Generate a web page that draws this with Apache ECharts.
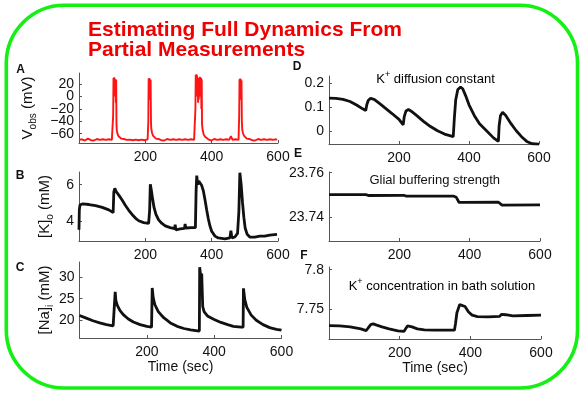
<!DOCTYPE html>
<html><head><meta charset="utf-8">
<script src="https://cdn.jsdelivr.net/npm/echarts@6/dist/echarts.min.js"></script>
<style>html,body{margin:0;padding:0;background:#fff}#c{width:587px;height:394px}</style>
</head><body><div id="c"></div>
<script>
// ---------- data (time in sec) ----------
const xTicks = [200, 400, 600];
const yTicksA = [-60, -40, -20, 0, 20];
const yTicksB = [4, 6];
const yTicksC = [20, 25, 30];
const yTicksD = [0, 0.1, 0.2];
const yTicksE = [23.74, 23.76];
const yTicksF = [7.75, 7.8];

// A: observed membrane voltage (mV)
const vObs = [
 [0,-70],[3,-68.5],[6,-71],[9,-69],[12,-70.5],[15,-68.5],[18,-71],[21,-69.5],[24,-70],[27,-68],[30,-71],[33,-69],
 [36,-70.5],[39,-68.5],[42,-70],[45,-71],[48,-69],[51,-70],[54,-68.5],[57,-71],[60,-69.5],[63,-70],[66,-68],[69,-70.5],
 [72,-69],[75,-71],[78,-69.5],[81,-70],[84,-68.5],[87,-70.5],[90,-69],[93,-71],[96,-69.5],[99,-70],[102,-68.5],
 [103,-30],[104,30],[105,20],[106,31],[107,10],[108,29],[109,0],[110,28],[111,-10],[112,27],[113,-45],[114,-55],[116,-60],[119,-64],[123,-66.5],[128,-68],
 [132,-70],[135,-68.5],[138,-71],[141,-69],[144,-70],[147,-68.5],[150,-71],[153,-69.5],[156,-70],[159,-68],[162,-70.5],[165,-69],
 [168,-71],[171,-69.5],[174,-70],[177,-68.5],[180,-70.5],[183,-69],[186,-71],[189,-69.5],[192,-70],[195,-68],[198,-70.5],[201,-69],[204,-70.5],[207,-69],
 [209,-40],[210,29],[211,15],[212,30],[213,5],[214,28],[215,-5],[216,27],[217,-40],[218,-52],[220,-58],[223,-63],[227,-66],[232,-68],
 [236,-70],[239,-68.5],[242,-71],[245,-69],[248,-70.5],[251,-68.5],[254,-70],[257,-71],[260,-69],[263,-70],[266,-68.5],[269,-71],
 [272,-69.5],[275,-70],[278,-68],[281,-70.5],[284,-69],[287,-71],[290,-69.5],[293,-70],[296,-68.5],[299,-70.5],[302,-69],[305,-71],
 [308,-69.5],[311,-70],[314,-68],[317,-70.5],[320,-69],[323,-71],[326,-69.5],[329,-70],[332,-68.5],[335,-70.5],[338,-69],[341,-71],
 [344,-69.5],[347,-70],[350,-68.5],
 [351,-20],[352,35],[353,20],[354,36],[355,10],[356,34],[357,0],[358,30],[359,-10],[360,28],[361,-5],[362,30],[363,0],[364,32],[365,5],
 [366,31],[367,0],[368,30],[369,-20],[370,28],[371,-45],[373,-55],[376,-61],[380,-65],[385,-67.5],[390,-69],
 [393,-70.5],[396,-68.5],[399,-71],[402,-69],[405,-70],[408,-68.5],[411,-71],[414,-69.5],[417,-70],[420,-68],[423,-70.5],[426,-69],
 [429,-71],[432,-69.5],[435,-70],[438,-68.5],[441,-70.5],[444,-69],[447,-71],[450,-69.5],[453,-70],[456,-68],[458,-64],[460,-67],[463,-70],
 [466,-68.5],[469,-71],[472,-69],[475,-70.5],[478,-68.5],[481,-70],
 [483,-30],[484,28],[485,15],[486,29],[487,5],[488,28],[489,-5],[490,26],[491,-40],[492,-52],[494,-58],[497,-63],[501,-66],[506,-68],
 [510,-70],[513,-68.5],[516,-71],[519,-69],[522,-70.5],[525,-68.5],[528,-70],[531,-71],[534,-69],[537,-70],[540,-68.5],[543,-71],
 [546,-69.5],[549,-70],[552,-68],[555,-70.5],[558,-69],[561,-71],[564,-69.5],[567,-70],[570,-68.5],[573,-70.5],[576,-69],[579,-71],
 [582,-69.5],[585,-70],[588,-68.5],[591,-70.5],[594,-69],[597,-70]
];

// B: extracellular potassium (mM)
const kOut = [
 [0,3.5],[1,4.6],[3,4.88],[10,4.93],[30,4.9],[50,4.84],[70,4.74],[90,4.6],[103,4.45],
 [105,5.6],[108,5.8],[112,5.62],[120,5.42],[130,5.15],[140,4.85],[150,4.58],[160,4.35],[170,4.15],[180,4.0],[195,3.9],[210,3.85],
 [213,4.6],[215,6.02],[218,5.7],[222,5.2],[226,4.75],[232,4.35],[240,4.05],[250,3.85],[260,3.72],[275,3.62],[288,3.56],[290,3.78],[292,3.5],
 [305,3.55],[318,3.58],[320,3.82],[322,3.6],[340,3.62],[351,3.62],
 [353,5.6],[355,6.5],[358,6.0],[361,6.2],[365,6.15],[370,5.95],[375,5.65],[380,5.15],[385,4.6],[390,4.1],[395,3.7],[400,3.42],
 [410,3.15],[420,3.05],[440,3.0],[455,3.05],[458,3.45],[461,3.05],[470,3.1],[478,3.3],[482,4.5],[485,6.66],[489,6.0],[493,5.0],
 [497,4.2],[501,3.6],[507,3.25],[515,3.1],[530,3.1],[545,3.15],[560,3.15],[575,3.2],[597,3.25]
];

// C: intracellular sodium (mM)
const naIn = [
 [0,21.1],[20,20.5],[40,19.9],[60,19.4],[80,19.0],[100,18.7],[105,18.6],
 [106,26.6],[108,24.6],[112,23.5],[120,22.3],[130,21.3],[145,20.3],[160,19.6],[180,19.0],[200,18.6],[214,18.4],
 [216,27.5],[219,25.2],[224,23.6],[234,22.0],[250,20.6],[270,19.4],[290,18.6],[310,18.1],[330,17.8],[356,17.5],
 [357,32.3],[360,30.2],[363,30.8],[366,23.2],[370,22.0],[380,21.0],[400,20.2],[420,19.5],[440,19.0],[457,18.6],[460,19.0],[462,18.5],
 [480,18.4],[486,18.4],[487,27.4],[491,24.8],[497,23.0],[510,21.2],[525,20.0],[545,19.0],[565,18.3],[585,17.9],[600,17.7]
];

// D: K+ diffusion constant
const kDiff = [
 [0,0.138],[20,0.137],[40,0.133],[60,0.124],[80,0.108],[95,0.094],[105,0.086],
 [108,0.11],[112,0.128],[119,0.138],[130,0.132],[145,0.115],[160,0.097],[180,0.073],[200,0.048],[212,0.025],
 [215,0.06],[220,0.084],[227,0.09],[235,0.083],[250,0.065],[270,0.04],[290,0.018],[310,0.0],[330,-0.014],[355,-0.025],
 [358,0.05],[362,0.13],[368,0.175],[376,0.185],[382,0.178],[390,0.15],[400,0.11],[415,0.065],[430,0.03],[450,0.0],[470,-0.03],[484,-0.045],
 [486,0.02],[490,0.065],[496,0.078],[505,0.065],[520,0.03],[535,0.0],[550,-0.025],[565,-0.045],[580,-0.055],[600,-0.057]
];

// E: glial buffering strength
const glial = [
 [0,23.7502],[105,23.7502],[112,23.7498],[213,23.7499],[220,23.7495],[355,23.7495],[362,23.749],[370,23.7467],[380,23.7467],
 [482,23.7468],[486,23.7462],[492,23.7455],[600,23.7456]
];

// F: K+ concentration in bath solution
const kBath = [
 [0,7.7286],[30,7.7283],[60,7.727],[90,7.7245],[105,7.7222],[110,7.725],[118,7.7298],[125,7.7308],[135,7.7292],[150,7.727],
 [170,7.7245],[195,7.722],[212,7.7212],[216,7.724],[222,7.7282],[235,7.727],[250,7.7245],[270,7.7232],[300,7.7228],[355,7.7228],
 [358,7.731],[362,7.745],[370,7.7555],[375,7.7572],[385,7.753],[395,7.746],[405,7.742],[420,7.7402],[450,7.7398],[483,7.7403],
 [486,7.738],[488,7.743],[493,7.7438],[500,7.7425],[520,7.741],[560,7.7415],[600,7.742]
];

// ---------- chart ----------
const FONT = 'Liberation Sans, Arial, Helvetica, sans-serif';
const grids = [
 {left:79, top:73, width:199, height:70},
 {left:79, top:172, width:199, height:69},
 {left:79.5, top:262, width:202, height:76},
 {left:329, top:76, width:210, height:68},
 {left:329, top:172, width:211, height:69},
 {left:329, top:267, width:212, height:72}
];
const yRanges = [[-75,38],[2.88,6.7],[15.9,33.5],[-0.056,0.232],[23.7295,23.7603],[7.7115,7.8035]];
const yTicks = [yTicksA,yTicksB,yTicksC,yTicksD,yTicksE,yTicksF];
const minusFmt = v => v < 0 ? '\u2212' + (-v) : String(v);
const yFmt = [minusFmt, v => String(v), v => String(v), v => String(v), v => v.toFixed(2), v => String(v)];
const subRich = {m:{fontSize:15, lineHeight:20, fontFamily:FONT, color:'#111'}, s:{fontSize:10, lineHeight:9, verticalAlign:'bottom', fontFamily:FONT, color:'#111'}};
const yNames = [
 {name:'{m|V}{s|obs}{m| (mV)}', gap:41},
 {name:'{m|[K]}{s|o}{m| (mM)}', gap:24},
 {name:'{m|[Na]}{s|i}{m| (mM)}', gap:24},
 null, null, null
];
const axisLineStyle = {color:'#555', width:1};

const xAxis = grids.map((g,i) => ({
 type:'value', gridIndex:i, min:0, max:600, interval:200,
 axisLine:{show:true, lineStyle:axisLineStyle, onZero:false},
 axisTick:{show:true, inside:true, length:3, lineStyle:axisLineStyle, customValues: xTicks},
 axisLabel:{customValues: xTicks, fontSize:14, color:'#111', fontFamily:FONT, margin:7, showMinLabel:true, showMaxLabel:true, hideOverlap:false},
 splitLine:{show:false},
 name: (i===2||i===5) ? 'Time (sec)' : '',
 nameLocation:'middle', nameGap:17,
 nameTextStyle:{fontSize:14, color:'#111', fontFamily:FONT}
}));

function makeY(i, gridIndex, ticks, showLine) {
 return {
  type:'value', gridIndex:gridIndex, position:'left', offset:0, min:yRanges[i][0], max:yRanges[i][1],
  axisLine:{show:showLine, lineStyle:axisLineStyle, onZero:false},
  axisTick:{show:true, inside:true, length:3, lineStyle:axisLineStyle, customValues: ticks},
  axisLabel:{customValues: ticks, fontSize:14, color:'#111', fontFamily:FONT, margin:5, formatter:yFmt[i], showMinLabel:true, showMaxLabel:true, hideOverlap:false},
  splitLine:{show:false}
 };
}
const yAxis = grids.map((g,i) => {
 // panel A labels are split across two overlaid axes sharing the same scale
 const ticks = i===0 ? yTicksA.filter((v,k) => k % 2 === 0) : yTicks[i];
 const a = makeY(i, i, ticks, true);
 if (yNames[i]) {
  a.name = yNames[i].name; a.nameLocation='middle'; a.nameGap=yNames[i].gap; a.nameRotate=90;
  a.nameTextStyle = {fontSize:15, color:'#111', fontFamily:FONT, rich:subRich};
 }
 return a;
});
yAxis.push(makeY(0, 0, yTicksA.filter((v,k) => k % 2 === 1), false));

const seriesData = [vObs,kOut,naIn,kDiff,glial,kBath];
const series = seriesData.map((d,i) => ({
 type:'line', xAxisIndex:i, yAxisIndex:i, data:d, showSymbol:false, animation:false, silent:true,
 lineStyle: i===0 ? {color:'#ff1414', width:1.9} : {color:'#111', width:2.8},
 clip:true
}));

const supRich = {n:{fontSize:13, lineHeight:18, fontFamily:FONT, color:'#111'}, p:{fontSize:9, lineHeight:9, verticalAlign:'top', fontFamily:FONT, color:'#111'}};
const letter = (t,x,y) => ({type:'text', x:x, y:y, z:1, style:{text:t, fontSize:12, fontWeight:'bold', fontFamily:FONT, fill:'#111', textAlign:'center', textVerticalAlign:'middle'}});
const graphic = [
 {type:'rect', shape:{x:6.3, y:5.3, width:571.2, height:382.7, r:58}, z:0, style:{fill:'none', stroke:'#14f014', lineWidth:3.6}},
 letter('A',20.5,70), letter('B',20,176), letter('C',20,268), letter('D',297,67), letter('E',298,154), letter('F',304,256),
 {type:'text', x:88, y:30.5, z:10, style:{text:'Estimating Full Dynamics From', fontSize:21, fontWeight:'bold', fontFamily:FONT, fill:'#f00000', textVerticalAlign:'middle', textShadowColor:'#7a0000', textShadowOffsetX:1, textShadowOffsetY:1, textShadowBlur:0}},
 {type:'text', x:88, y:50.7, z:10, style:{text:'Partial Measurements', fontSize:21, fontWeight:'bold', fontFamily:FONT, fill:'#f00000', textVerticalAlign:'middle', textShadowColor:'#7a0000', textShadowOffsetX:1, textShadowOffsetY:1, textShadowBlur:0}},
 {type:'text', x:435.5, y:79, z:5, style:{text:'{n|K}{p|+}{n| diffusion constant}', rich:supRich, textAlign:'center', textVerticalAlign:'middle'}},
 {type:'text', x:434.7, y:180, z:5, style:{text:'Glial buffering strength', fontSize:13, fontFamily:FONT, fill:'#111', textAlign:'center', textVerticalAlign:'middle'}},
 {type:'text', x:442, y:286, z:5, style:{text:'{n|K}{p|+}{n| concentration in bath solution}', rich:supRich, textAlign:'center', textVerticalAlign:'middle'}}
];

const chart = echarts.init(document.getElementById('c'), null, {renderer:'canvas'});
chart.setOption({
 backgroundColor:'#ffffff', animation:false,
 grid: grids.map(g => Object.assign({containLabel:false, outerBoundsMode:'none'}, g)),
 xAxis, yAxis, series, graphic
});
</script></body></html>
